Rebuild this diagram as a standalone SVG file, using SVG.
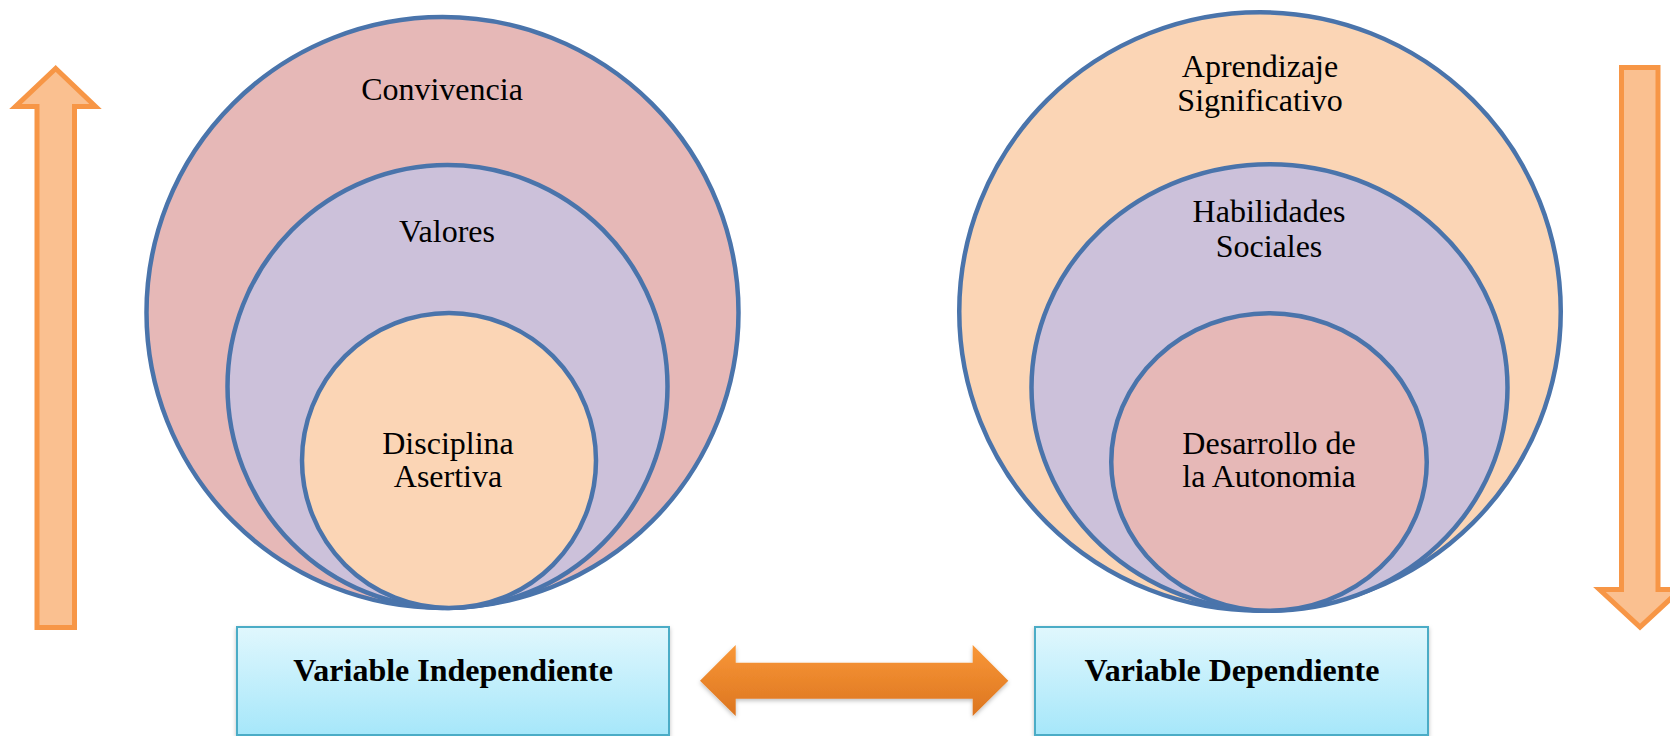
<svg xmlns="http://www.w3.org/2000/svg" width="1670" height="736" viewBox="0 0 1670 736">
<defs>
<linearGradient id="boxg" x1="0" y1="0" x2="0" y2="1">
<stop offset="0" stop-color="#e0f7fd"/>
<stop offset="1" stop-color="#a6e7fa"/>
</linearGradient>
<linearGradient id="arrg" x1="0" y1="0" x2="0" y2="1">
<stop offset="0" stop-color="#f99737"/>
<stop offset="1" stop-color="#dc7520"/>
</linearGradient>
<filter id="sh" x="-10%" y="-20%" width="120%" height="150%">
<feDropShadow dx="0" dy="2" stdDeviation="2" flood-color="#000" flood-opacity="0.25"/>
</filter>
</defs>
<style>
.c{stroke:#4a74ab;stroke-width:4.5}
.pink{fill:#e6b8b7}
.lav{fill:#ccc1da}
.peach{fill:#fbd5b5}
.t{font-family:"Liberation Serif","Times New Roman",serif;font-size:32px;fill:#000;text-anchor:middle}
.b{font-weight:bold}
.side{fill:#fac090;stroke:#f79646;stroke-width:5;stroke-linejoin:miter}
.box{fill:url(#boxg);stroke:#4bacc6;stroke-width:2}
</style>
<rect width="1670" height="736" fill="#fff"/>

<g id="left-circles">
<g id="convivencia">
<ellipse class="c pink" cx="442.5" cy="312.5" rx="296" ry="295.5"/>
<text class="t" x="442" y="100">Convivencia</text>
</g>
<g id="valores">
<ellipse class="c lav" cx="447.5" cy="386.5" rx="220" ry="221.5"/>
<text class="t" x="447" y="242">Valores</text>
</g>
<g id="disciplina">
<ellipse class="c peach" cx="449" cy="460.5" rx="147" ry="147.5"/>
<text class="t" x="448" y="454">Disciplina</text>
<text class="t" x="448" y="487">Asertiva</text>
</g>
</g>

<g id="right-circles">
<g id="aprendizaje">
<ellipse class="c peach" cx="1260" cy="311.5" rx="300.75" ry="299.25"/>
<text class="t" x="1260" y="77">Aprendizaje</text>
<text class="t" x="1260" y="111">Significativo</text>
</g>
<g id="habilidades">
<ellipse class="c lav" cx="1269.5" cy="387.5" rx="238" ry="223.25"/>
<text class="t" x="1269" y="222">Habilidades</text>
<text class="t" x="1269" y="257">Sociales</text>
</g>
<g id="autonomia">
<ellipse class="c pink" cx="1269" cy="462" rx="157.75" ry="148.75"/>
<text class="t" x="1269" y="454">Desarrollo de</text>
<text class="t" x="1269" y="487">la Autonomia</text>
</g>
</g>

<g id="var-independiente">
<rect class="box" x="237" y="627" width="432" height="108" filter="url(#sh)"/>
<text class="t b" x="453" y="681">Variable Independiente</text>
</g>
<g id="var-dependiente">
<rect class="box" x="1035" y="627" width="393" height="108" filter="url(#sh)"/>
<text class="t b" x="1232" y="681">Variable Dependiente</text>
</g>

<g id="connectors">
<path id="arrow-up" class="side" d="M55.7,68.5 L95.5,106.5 L74.5,106.5 L74.5,627.5 L37,627.5 L37,106.5 L15.5,106.5 Z"/>
<path id="arrow-down" class="side" d="M1621.5,67.5 L1658,67.5 L1658,589.5 L1680.5,589.5 L1640,627 L1599.5,589.5 L1621.5,589.5 Z"/>
<path id="arrow-both" fill="url(#arrg)" filter="url(#sh)" d="M700,680.7 L735.7,645 L735.7,662.7 L972.7,662.7 L972.7,645 L1008.3,680.7 L972.7,716 L972.7,698.7 L735.7,698.7 L735.7,716 Z"/>
</g>
</svg>
